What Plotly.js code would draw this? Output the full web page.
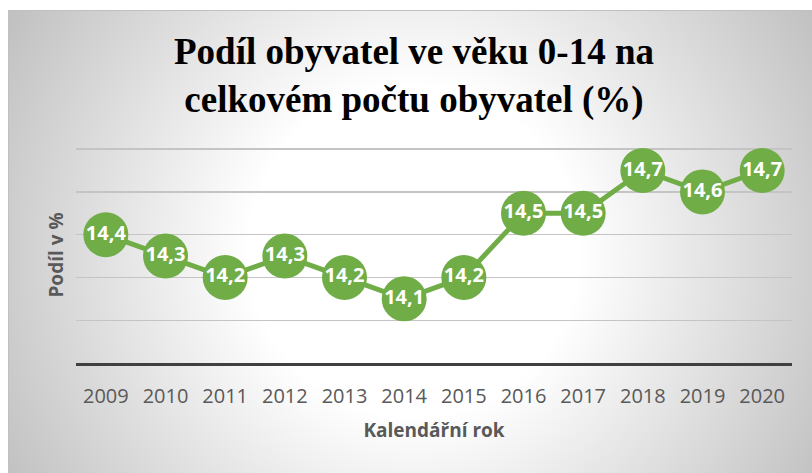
<!DOCTYPE html>
<html>
<head>
<meta charset="utf-8">
<script src="https://cdn.plot.ly/plotly-3.0.1.min.js"></script>
<style>
  html, body { margin: 0; padding: 0; background: #ffffff; overflow: hidden; }
  #wrap { position: relative; width: 812px; height: 473px; }
  #bg {
    position: absolute; left: 8px; top: 10px; width: 810px; height: 480px;
    border-left: 1px solid #c0c0c0; border-top: 1px solid #c0c0c0;
    background: radial-gradient(circle farthest-corner at 50% 50%, #ffffff 0%, #ffffff 35%, #c0c0c0 100%);
  }
  #chart { position: absolute; left: 0; top: 0; width: 812px; height: 473px; }
</style>
</head>
<body>
<div id="wrap">
  <div id="bg"></div>
  <div id="chart"></div>
</div>
<script>
const years = ["2009", "2010", "2011", "2012", "2013", "2014", "2015", "2016", "2017", "2018", "2019", "2020"];
const shareValues = [14.4, 14.3, 14.2, 14.3, 14.2, 14.1, 14.2, 14.5, 14.5, 14.7, 14.6, 14.7];
const chartTitle = "Podíl obyvatel ve věku 0-14 na<br>celkovém počtu obyvatel (%)";
const xTitle = "Kalendářní rok";
const yTitle = "Podíl v %";

const labels = shareValues.map(v => v.toFixed(1).replace('.', ','));
const green = '#70AD47';

const trace = {
  type: 'scatter',
  mode: 'lines+markers+text',
  x: years,
  y: shareValues,
  text: labels,
  textposition: 'middle center',
  textfont: { family: 'Open Sans', size: 20, color: '#ffffff', weight: 'bold' },
  line: { color: green, width: 5 },
  marker: { color: green, size: 45, line: { width: 0 } },
  hoverinfo: 'skip',
  cliponaxis: false
};

const layout = {
  width: 812,
  height: 473,
  margin: { l: 76, r: 20, t: 147.2, b: 110.3 },
  paper_bgcolor: 'rgba(0,0,0,0)',
  plot_bgcolor: 'rgba(0,0,0,0)',
  showlegend: false,
  title: {
    text: chartTitle,
    font: { family: 'Liberation Serif', size: 37, color: '#000000', weight: 'bold' },
    xref: 'container', x: 414 / 812, xanchor: 'center',
    yref: 'container', y: 1 - 64 / 473, yanchor: 'top'
  },
  xaxis: {
    type: 'category',
    range: [-0.5, 11.5],
    showgrid: false,
    zeroline: false,
    showline: true,
    linecolor: '#404040',
    linewidth: 3,
    ticks: '',
    ticklabelstandoff: 13,
    tickfont: { family: 'Open Sans', size: 20, color: '#595959' },
    title: {
      text: xTitle,
      font: { family: 'Open Sans', size: 19, color: '#595959', weight: 'bold' },
      standoff: 16
    },
    fixedrange: true
  },
  yaxis: {
    range: [13.8, 14.81],
    dtick: 0.2,
    tick0: 13.8,
    showgrid: true,
    gridcolor: '#c4c4c4',
    gridwidth: 1.3,
    zeroline: false,
    showline: false,
    showticklabels: false,
    ticks: '',
    title: {
      text: yTitle,
      font: { family: 'Open Sans', size: 19, color: '#595959', weight: 'bold' },
      standoff: 6
    },
    fixedrange: true
  }
};

Plotly.newPlot('chart', [trace], layout, { staticPlot: true, displayModeBar: false });
</script>
</body>
</html>
